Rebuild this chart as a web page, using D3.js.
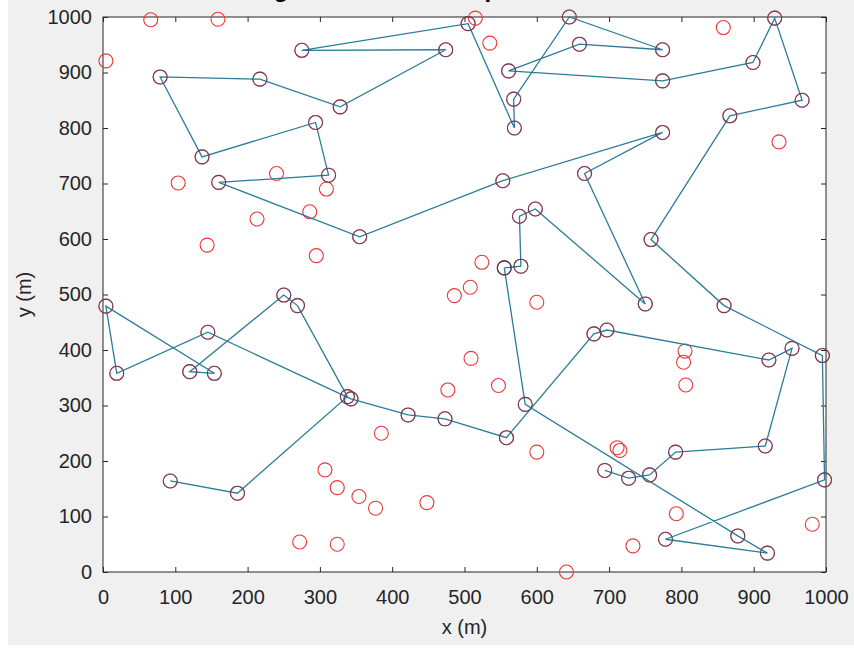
<html>
  <head>
    <meta charset="utf-8">
    <style>
      body { margin: 0; background: #ffffff; }
      svg { display: block; }
      svg text { font-family: "Liberation Sans", Arial, sans-serif; }
    </style>
  </head>
  <body>
    <div id="vis"></div>
    <script src="https://d3js.org/d3.v7.min.js"></script>
    <script>
      // sensor nodes (m)
      const nodeX = [66, 159, 4, 275, 79, 217, 328, 294, 137, 104,
        160, 240, 312, 309, 286, 213, 355, 144, 295, 250,
        269, 4, 145, 19, 120, 154, 338, 343, 422, 385,
        307, 324, 354, 377, 93, 186, 272, 324, 448, 505,
        515, 474, 535, 645, 659, 774, 858, 929, 561, 774,
        899, 967, 568, 569, 867, 774, 935, 666, 553, 598,
        576, 758, 524, 555, 578, 508, 486, 600, 750, 859,
        679, 697, 805, 803, 806, 509, 547, 477, 584, 473,
        558, 600, 921, 953, 995, 711, 715, 792, 916, 694,
        727, 756, 998, 793, 981, 878, 778, 919, 733, 641]
      const nodeY = [995, 996, 921, 940, 892, 888, 838, 810, 748, 701,
        702, 718, 715, 690, 649, 636, 604, 589, 570, 499,
        480, 479, 432, 358, 361, 358, 316, 312, 283, 250,
        184, 152, 136, 115, 164, 142, 54, 50, 125, 988,
        998, 941, 953, 1000, 951, 941, 981, 998, 903, 885,
        918, 850, 852, 800, 822, 792, 775, 718, 705, 654,
        641, 599, 558, 548, 551, 513, 498, 486, 483, 480,
        429, 436, 398, 378, 337, 385, 336, 328, 302, 276,
        242, 216, 382, 403, 390, 224, 219, 216, 227, 183,
        169, 175, 166, 105, 86, 65, 59, 34, 47, 0]

      // routes, as node indices
      const routeA = [34, 35, 26, 20, 19, 24, 25, 21, 23, 22, 27, 28, 79, 80,
        70, 71, 82, 83, 88, 87, 91, 90, 89]
      const routeB = [63, 64, 60, 59, 68, 57, 55, 58, 16, 10, 12, 7, 8, 4, 5,
        6, 41, 3, 39, 53, 52, 43, 45, 44, 48, 49, 50, 47, 51, 54, 61, 69, 84,
        92, 96, 97, 95, 78, 63]

      const xTicks = [0, 100, 200, 300, 400, 500, 600, 700, 800, 900, 1000]
      const yTicks = [0, 100, 200, 300, 400, 500, 600, 700, 800, 900, 1000]
      const chartTitle = 'Clustering of all nodes and path of the mobile sinks'

      const W = 854, H = 648
      const box = { left: 103, right: 826, top: 17, bottom: 572 }
      const axisColor = '#262626'
      const lineColor = '#2b7c98'

      const svg = d3.select('#vis').append('svg')
        .attr('width', W)
        .attr('height', H)

      // figure background
      svg.append('rect')
        .attr('x', 8).attr('y', 0)
        .attr('width', W - 8).attr('height', 645)
        .attr('fill', '#f0f0f0')

      svg.append('rect')
        .attr('x', box.left).attr('y', box.top)
        .attr('width', box.right - box.left)
        .attr('height', box.bottom - box.top)
        .attr('fill', '#ffffff')

      const x = d3.scaleLinear().domain([0, 1000]).range([box.left, box.right])
      const y = d3.scaleLinear().domain([0, 1000]).range([box.bottom, box.top])

      // axes, ticks pointing inward like matlab
      function styleAxis(g) {
        g.select('.domain').remove()
        g.selectAll('.tick line').attr('stroke', axisColor)
        g.selectAll('.tick text')
          .attr('fill', axisColor)
          .style('font-size', '20px')
      }
      svg.append('g')
        .attr('transform', `translate(0,${box.bottom})`)
        .call(d3.axisBottom(x).tickValues(xTicks).tickFormat(d3.format('d'))
          .tickSize(-5).tickPadding(18))
        .call(styleAxis)
      svg.append('g')
        .attr('transform', `translate(${box.left},0)`)
        .call(d3.axisLeft(y).tickValues(yTicks).tickFormat(d3.format('d'))
          .tickSize(-5).tickPadding(11))
        .call(styleAxis)
      svg.append('g')
        .attr('transform', `translate(0,${box.top})`)
        .call(d3.axisTop(x).tickValues(xTicks).tickSize(-5).tickFormat(''))
        .call(styleAxis)
      svg.append('g')
        .attr('transform', `translate(${box.right},0)`)
        .call(d3.axisRight(y).tickValues(yTicks).tickSize(-5).tickFormat(''))
        .call(styleAxis)

      svg.append('rect')
        .attr('x', box.left).attr('y', box.top)
        .attr('width', box.right - box.left)
        .attr('height', box.bottom - box.top)
        .attr('fill', 'none')
        .attr('stroke', axisColor)
        .attr('stroke-width', 1)

      // all sensors
      svg.append('g')
        .selectAll('circle')
        .data(nodeX.map((d, i) => i))
        .join('circle')
        .attr('cx', i => x(nodeX[i]))
        .attr('cy', i => y(nodeY[i]))
        .attr('r', 7)
        .attr('fill', 'none')
        .attr('stroke', '#ee3535')
        .attr('stroke-width', 1.1)

      // routes with markers
      const line = d3.line()
        .x(i => x(nodeX[i]))
        .y(i => y(nodeY[i]))
      ;[routeA, routeB].forEach(r => {
        svg.append('path')
          .datum(r)
          .attr('d', line)
          .attr('fill', 'none')
          .attr('stroke', lineColor)
          .attr('stroke-width', 1.3)
        svg.append('g')
          .selectAll('circle')
          .data(r)
          .join('circle')
          .attr('cx', i => x(nodeX[i]))
          .attr('cy', i => y(nodeY[i]))
          .attr('r', 7)
          .attr('fill', 'none')
          .attr('stroke', '#3b3f66')
          .attr('stroke-opacity', 0.7)
          .attr('stroke-width', 1.1)
      })

      // labels
      svg.append('text')
        .attr('x', (box.left + box.right) / 2)
        .attr('y', 634)
        .attr('text-anchor', 'middle')
        .attr('fill', axisColor)
        .style('font-size', '20px')
        .text('x (m)')
      svg.append('text')
        .attr('transform', `translate(31,${(box.top + box.bottom) / 2}) rotate(-90)`)
        .attr('text-anchor', 'middle')
        .attr('fill', axisColor)
        .style('font-size', '20px')
        .text('y (m)')

      // title sits above the picture, only the descenders show
      svg.append('text')
        .attr('x', (box.left + box.right) / 2)
        .attr('y', -3)
        .attr('text-anchor', 'middle')
        .attr('fill', '#000')
        .style('font-size', '24px')
        .style('font-weight', 'bold')
        .text(chartTitle)
    </script>
  </body>
</html>
